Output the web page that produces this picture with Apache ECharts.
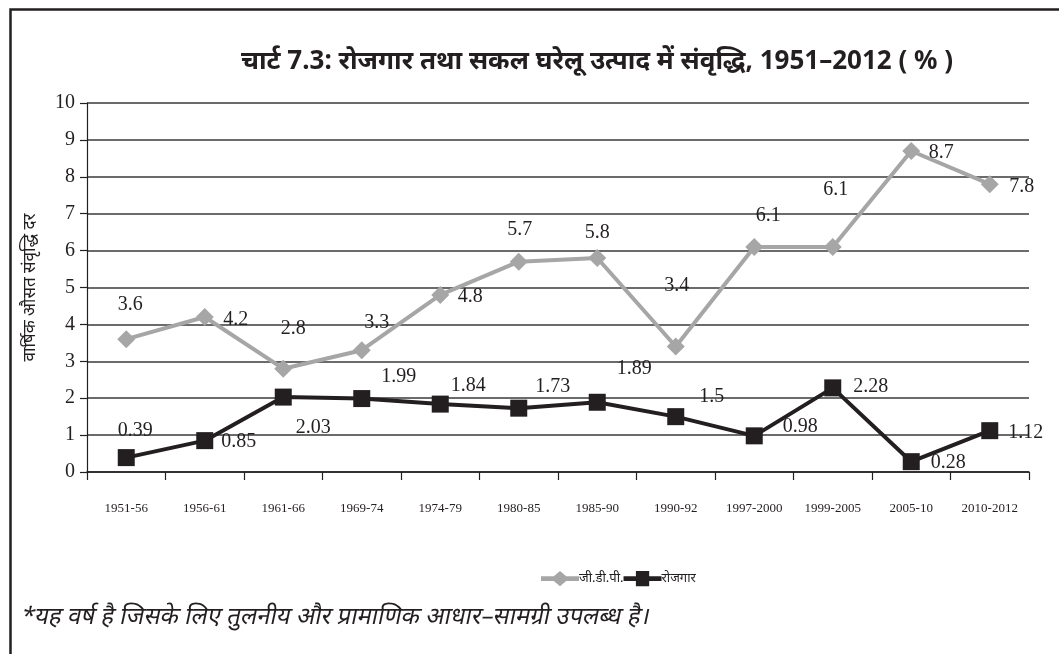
<!DOCTYPE html>
<html>
<head>
<meta charset="utf-8">
<script src="https://cdn.jsdelivr.net/npm/echarts@6/dist/echarts.min.js"></script>
<style>
html,body{margin:0;padding:0;background:#fff;}
#chart{width:1059px;height:654px;}
</style>
</head>
<body>
<div id="chart"></div>
<script>
const categories = ['1951-56','1956-61','1961-66','1969-74','1974-79','1980-85','1985-90','1990-92','1997-2000','1999-2005','2005-10','2010-2012'];
const gdp = [3.6, 4.2, 2.8, 3.3, 4.8, 5.7, 5.8, 3.4, 6.1, 6.1, 8.7, 7.8];
const employment = [0.39, 0.85, 2.03, 1.99, 1.84, 1.73, 1.89, 1.5, 0.98, 2.28, 0.28, 1.12];
const yTicks = [0,1,2,3,4,5,6,7,8,9,10];
const titleText = 'चार्ट 7.3: रोजगार तथा सकल घरेलू उत्पाद में संवृद्धि, 1951–2012 ( % )';
const yAxisName = 'वार्षिक औसत संवृद्धि दर';
const seriesNames = ['जी.डी.पी.', 'रोजगार'];
const footnote = '*यह वर्ष है जिसके लिए तुलनीय और प्रामाणिक आधार–सामग्री उपलब्ध है।';

// label placement (styling only)
const gdpLabelOffsets = [[4,-34],[31,3],[10,-40],[15,-27],[30,2],[1,-32],[0,-25],[1,-61],[14,-31],[3,-57],[30,2],[32,3]];
const empLabelOffsets = [[9,-27],[34,1],[30,31],[37,-22],[28,-18],[34,-21],[37,-34],[36,-20],[46,-9],[38,-1],[37,1],[36,2]];

const serif = '"Liberation Serif", "DejaVu Serif", serif';
const labelStyle = {fontFamily: serif, fontSize: 20, color: '#231f20'};

function withLabels(vals, offs) {
  return vals.map((v, i) => ({
    value: v,
    label: {show: true, position: 'inside', offset: offs[i], formatter: String(v), ...labelStyle}
  }));
}

const diamondIcon = 'path://M0,5.5L13.5,5.5L20,0L26.5,5.5L40,5.5L40,10.5L26.5,10.5L20,16L13.5,10.5L0,10.5Z';
const squareIcon = 'path://M0,5.5L13,5.5L13,0L27,0L27,5.5L40,5.5L40,10.5L27,10.5L27,16L13,16L13,10.5L0,10.5Z';

const chart = echarts.init(document.getElementById('chart'), null, {renderer: 'canvas'});
chart.setOption({
  backgroundColor: '#fff',
  animation: false,
  title: {
    text: titleText,
    left: 592, top: 44, textAlign: 'center',
    textStyle: {fontFamily: '"Noto Sans", "Open Sans", sans-serif', fontWeight: 'bold', fontSize: 26, color: '#231f20'}
  },
  grid: {left: 87, right: 30, top: 103, bottom: 182, containLabel: false},
  legend: {
    data: [
      {name: seriesNames[0], icon: diamondIcon},
      {name: seriesNames[1], icon: squareIcon}
    ],
    left: 536, top: 566, itemGap: 0, itemWidth: 38, itemHeight: 16,
    textStyle: {fontFamily: '"Noto Sans", sans-serif', fontSize: 13, color: '#231f20', padding: [0,0,0,-5]}
  },
  xAxis: {
    type: 'category',
    data: categories,
    boundaryGap: true,
    axisLine: {lineStyle: {color: '#231f20', width: 1.5}},
    axisTick: {show: true, alignWithLabel: false, length: 8, lineStyle: {color: '#231f20', width: 1.2}},
    axisLabel: {fontFamily: serif, fontSize: 13, color: '#231f20', margin: 30, interval: 0}
  },
  yAxis: {
    type: 'value', min: yTicks[0], max: yTicks[yTicks.length-1], interval: 1,
    name: yAxisName, nameLocation: 'middle', nameGap: 48, nameRotate: 90,
    nameTextStyle: {fontFamily: '"Noto Sans", sans-serif', fontSize: 17, color: '#231f20'},
    axisLine: {show: true, lineStyle: {color: '#231f20', width: 1.2}},
    axisTick: {show: true, length: 7, lineStyle: {color: '#231f20', width: 1.2}},
    axisLabel: {fontFamily: serif, fontSize: 20, color: '#231f20', margin: 12},
    splitLine: {lineStyle: {color: '#3a3a3a', width: 1.5}}
  },
  series: [
    {
      name: seriesNames[0], type: 'line', data: withLabels(gdp, gdpLabelOffsets),
      symbol: 'diamond', symbolSize: 18,
      lineStyle: {color: '#a6a6a6', width: 4},
      itemStyle: {color: '#a6a6a6'},
      z: 3
    },
    {
      name: seriesNames[1], type: 'line', data: withLabels(employment, empLabelOffsets),
      symbol: 'rect', symbolSize: 17,
      lineStyle: {color: '#231f20', width: 4},
      itemStyle: {color: '#231f20'},
      z: 4
    }
  ],
  graphic: [
    {type: 'rect', left: 8, top: 7, shape: {width: 1200, height: 800},
     style: {fill: 'none', stroke: '#231f20', lineWidth: 2.5}, silent: true}
  ]
});

// italic footnote: no italic Devanagari face is installed, so slant it with a skew transform
const note = new echarts.graphic.Text({
  x: 22, y: 617,
  skewX: -0.21,
  style: {text: footnote, font: '24px "Noto Sans", sans-serif', fill: '#231f20', verticalAlign: 'middle', align: 'left'},
  silent: true, z: 10
});
chart.getZr().add(note);
</script>
</body>
</html>
